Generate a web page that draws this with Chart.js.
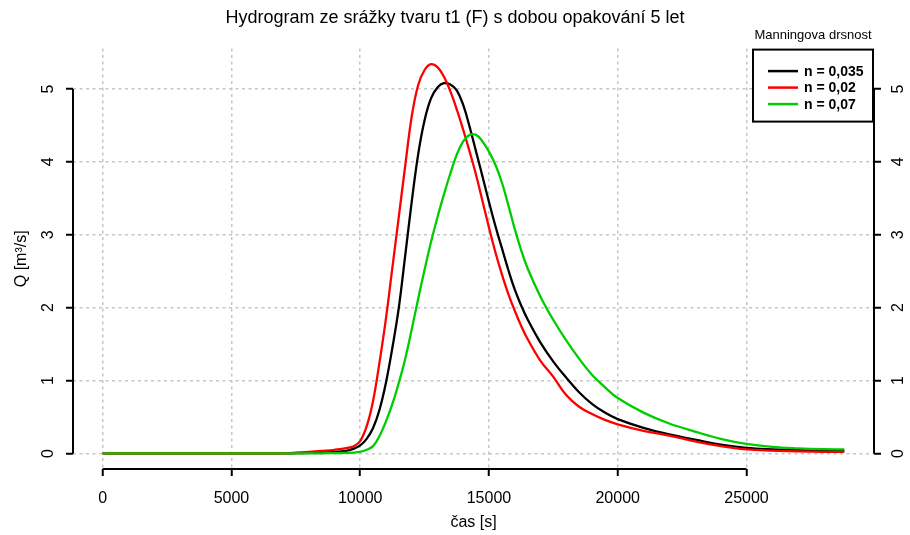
<!DOCTYPE html>
<html>
<head>
<meta charset="utf-8">
<script src="https://cdn.jsdelivr.net/npm/chart.js@4.4.1/dist/chart.umd.min.js"></script>
<style>
  body { margin: 0; background: #fff; }
  #wrap { width: 910px; height: 535px; }
</style>
</head>
<body>
<div id="wrap"><canvas id="hydro" width="910" height="535"></canvas></div>
<script>
// time [s]
const times = [
  0, 1000, 2000, 3000, 4000, 5000, 6000, 7000, 7500, 8000, 8500, 9000, 9500, 9750,
  10000, 10250, 10500, 10750, 11000, 11250, 11500, 11750, 12000, 12250, 12500, 12750,
  13000, 13250, 13500, 13750, 14000, 14250, 14500, 14750, 15000, 15250, 15500, 15750,
  16000, 16250, 16500, 17000, 17500, 18000, 18500, 19000, 19500, 20000,
  21000, 22000, 23000, 24000, 25000, 26000, 27000, 28000, 28800
];

// Q [m3/s] for n = 0,035
const qN035 = [
  0, 0, 0, 0, 0, 0, 0, 0, 0.003, 0.008, 0.013, 0.02, 0.04, 0.065,
  0.11, 0.2, 0.35, 0.6, 0.97, 1.45, 2.0, 2.72, 3.45, 4.1, 4.57, 4.87,
  5.02, 5.08, 5.06, 4.98, 4.78, 4.48, 4.14, 3.8, 3.45, 3.12, 2.82, 2.52,
  2.25, 2.03, 1.84, 1.52, 1.26, 1.04, 0.84, 0.68, 0.56, 0.47,
  0.35, 0.26, 0.19, 0.12, 0.075, 0.055, 0.045, 0.038, 0.035
];

// Q [m3/s] for n = 0,02
const qN002 = [
  0, 0, 0, 0, 0, 0, 0, 0.002, 0.01, 0.022, 0.035, 0.05, 0.075, 0.1,
  0.17, 0.37, 0.72, 1.25, 1.85, 2.55, 3.25, 3.95, 4.62, 5.05, 5.26, 5.34,
  5.3, 5.17, 4.97, 4.72, 4.44, 4.14, 3.82, 3.46, 3.1, 2.76, 2.46, 2.19,
  1.96, 1.75, 1.57, 1.27, 1.05, 0.8, 0.64, 0.54, 0.46, 0.4,
  0.31, 0.245, 0.165, 0.1, 0.055, 0.038, 0.028, 0.022, 0.02
];

// Q [m3/s] for n = 0,07
const qN007 = [
  0, 0, 0, 0, 0, 0, 0, 0, 0, 0, 0.002, 0.004, 0.008, 0.012,
  0.02, 0.05, 0.1, 0.24, 0.44, 0.68, 0.97, 1.3, 1.7, 2.12, 2.52, 2.9,
  3.24, 3.55, 3.84, 4.1, 4.28, 4.37, 4.37, 4.28, 4.14, 3.96, 3.72, 3.41,
  3.08, 2.79, 2.54, 2.15, 1.83, 1.55, 1.3, 1.08, 0.91, 0.76,
  0.56, 0.41, 0.3, 0.2, 0.13, 0.09, 0.07, 0.058, 0.055
];

const seriesLabels = ['n = 0,035', 'n = 0,02', 'n = 0,07'];
const seriesColors = ['#000000', '#ff0000', '#00cd00'];
const xTicks = [0, 5000, 10000, 15000, 20000, 25000];
const yTicks = [0, 1, 2, 3, 4, 5];

const FONT = "'Liberation Sans', Arial, sans-serif";
Chart.defaults.font.family = FONT;
Chart.defaults.color = '#000';

// R-like axis ranges: data range widened by 4 %
const tMax = Math.max(...times);
const qMax = Math.max(...qN035, ...qN002, ...qN007);
const xMin = -0.04 * tMax, xMax = 1.04 * tMax;
const yMin = -0.04 * qMax, yMax = 1.04 * qMax;

function pts(values) {
  return times.map((t, i) => ({ x: t, y: values[i] }));
}

// axis lines that only span the tick range (like base R axis())
const rAxes = {
  id: 'rAxes',
  afterDraw(chart) {
    const { ctx, chartArea, scales } = chart;
    ctx.save();
    ctx.strokeStyle = '#000';
    ctx.lineWidth = 2;
    ctx.beginPath();
    ctx.moveTo(scales.x.getPixelForValue(xTicks[0]), chartArea.bottom);
    ctx.lineTo(scales.x.getPixelForValue(xTicks[xTicks.length - 1]), chartArea.bottom);
    ctx.moveTo(chartArea.left, scales.y.getPixelForValue(yTicks[0]));
    ctx.lineTo(chartArea.left, scales.y.getPixelForValue(yTicks[yTicks.length - 1]));
    ctx.moveTo(chartArea.right, scales.y2.getPixelForValue(yTicks[0]));
    ctx.lineTo(chartArea.right, scales.y2.getPixelForValue(yTicks[yTicks.length - 1]));
    ctx.stroke();
    ctx.restore();
  }
};

// boxed legend in the top right corner, title above the box
const boxLegend = {
  id: 'boxLegend',
  afterDraw(chart) {
    const { ctx, chartArea } = chart;
    const w = 120, h = 72;
    const bx = chartArea.right - w - 1, by = chartArea.top + 1;
    ctx.save();
    ctx.fillStyle = '#fff';
    ctx.fillRect(bx, by, w, h);
    ctx.strokeStyle = '#000';
    ctx.lineWidth = 2;
    ctx.strokeRect(bx, by, w, h);

    ctx.fillStyle = '#000';
    ctx.font = '13px ' + FONT;
    ctx.textAlign = 'center';
    ctx.textBaseline = 'middle';
    ctx.fillText('Manningova drsnost', bx + w / 2, by - 14);

    ctx.font = 'bold 14px ' + FONT;
    ctx.textAlign = 'left';
    chart.data.datasets.forEach((ds, i) => {
      const ry = by + 21.5 + i * 16.5;
      ctx.strokeStyle = ds.borderColor;
      ctx.lineWidth = 2.5;
      ctx.beginPath();
      ctx.moveTo(bx + 15, ry);
      ctx.lineTo(bx + 45, ry);
      ctx.stroke();
      ctx.fillText(ds.label, bx + 51, ry + 1);
    });
    ctx.restore();
  }
};

const gridCommon = {
  color: '#c6c6c6',
  lineWidth: 1.5,
  tickColor: '#000',
  tickWidth: 2,
  tickLength: 7,
  tickBorderDash: []
};

new Chart(document.getElementById('hydro'), {
  type: 'line',
  data: {
    datasets: [
      { label: seriesLabels[0], data: pts(qN035), borderColor: seriesColors[0], order: 3 },
      { label: seriesLabels[1], data: pts(qN002), borderColor: seriesColors[1], order: 2 },
      { label: seriesLabels[2], data: pts(qN007), borderColor: seriesColors[2], order: 1 }
    ].map(d => Object.assign(d, {
      borderWidth: 2.3,
      pointRadius: 0,
      fill: false,
      tension: 0.4
    }))
  },
  options: {
    responsive: false,
    devicePixelRatio: 1,
    animation: false,
    layout: { padding: 0 },
    plugins: {
      legend: { display: false },
      tooltip: { enabled: false },
      title: {
        display: true,
        text: 'Hydrogram ze srážky tvaru t1 (F) s dobou opakování 5 let',
        font: { size: 18, weight: 'normal' },
        color: '#000',
        padding: { top: 7, bottom: 20 }
      }
    },
    scales: {
      x: {
        type: 'linear',
        min: xMin,
        max: xMax,
        afterBuildTicks: s => { s.ticks = xTicks.map(v => ({ value: v })); },
        afterFit: s => { s.height = 66; },
        ticks: { font: { size: 16 }, color: '#000', padding: 13, maxRotation: 0, callback: v => String(v) },
        grid: gridCommon,
        border: { display: false, dash: [3, 3.5] },
        title: { display: true, text: 'čas [s]', font: { size: 16 }, color: '#000', padding: { top: 0, bottom: 3 } }
      },
      y: {
        type: 'linear',
        position: 'left',
        min: yMin,
        max: yMax,
        afterBuildTicks: s => { s.ticks = yTicks.map(v => ({ value: v })); },
        afterFit: s => { s.width = 73; },
        ticks: { font: { size: 16 }, color: '#000', padding: 13, minRotation: 90, maxRotation: 90, crossAlign: 'center', callback: v => String(v) },
        grid: gridCommon,
        border: { display: false, dash: [3, 3.5] },
        title: { display: true, text: 'Q [m³/s]', font: { size: 16 }, color: '#000', padding: { top: 12, bottom: 0 } }
      },
      y2: {
        type: 'linear',
        position: 'right',
        min: yMin,
        max: yMax,
        afterBuildTicks: s => { s.ticks = yTicks.map(v => ({ value: v })); },
        afterFit: s => { s.width = 36; },
        ticks: { font: { size: 16 }, color: '#000', padding: 13, minRotation: 90, maxRotation: 90, crossAlign: 'center', callback: v => String(v) },
        grid: Object.assign({}, gridCommon, { drawOnChartArea: false }),
        border: { display: false }
      }
    }
  },
  plugins: [rAxes, boxLegend]
});
</script>
</body>
</html>
